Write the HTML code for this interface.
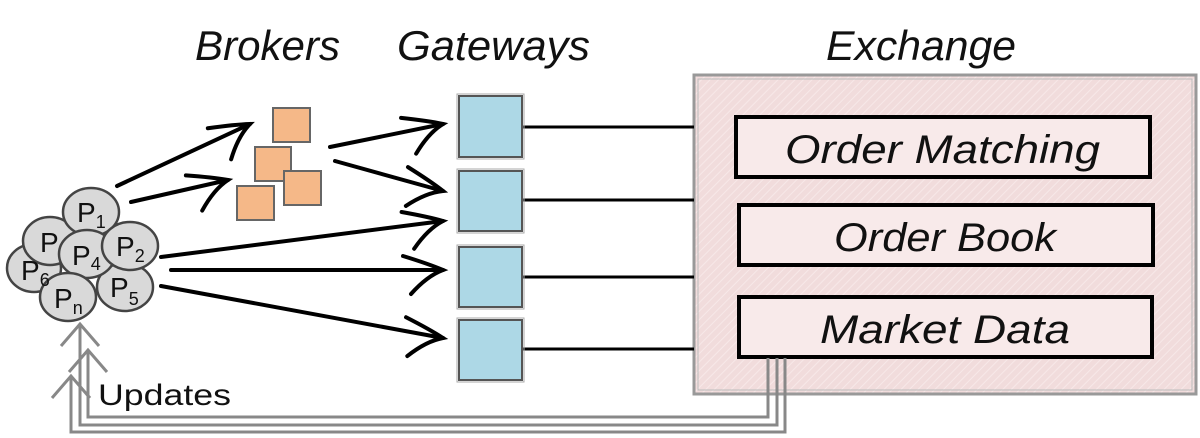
<!DOCTYPE html>
<html><head><meta charset="utf-8"><style>
html,body{margin:0;padding:0;background:#fff}
svg{display:block}
text{font-family:"Liberation Sans",sans-serif;font-style:italic;fill:#111}
</style></head><body>
<svg width="1200" height="438" viewBox="0 0 1200 438" xmlns="http://www.w3.org/2000/svg">
<defs>
<pattern id="hp" width="6" height="6" patternUnits="userSpaceOnUse" patternTransform="rotate(45)">
<rect width="6" height="6" fill="#f1dcdc"/><line x1="0" y1="0" x2="0" y2="6" stroke="#f7e8e8" stroke-width="2"/>
</pattern>
<g id="ah"><path d="M-40,-14 Q-14,-6 0,0 Q-16,6 -32,24" fill="none" stroke="#000" stroke-width="4" stroke-linecap="round"/></g>
<g id="gh"><path d="M-19,22 L0,0 L19,22" fill="none" stroke="#888" stroke-width="3"/></g>
</defs>

<text x="195" y="60" font-size="42" textLength="145" lengthAdjust="spacingAndGlyphs">Brokers</text>
<text x="397" y="60" font-size="42" textLength="193" lengthAdjust="spacingAndGlyphs">Gateways</text>
<text x="826" y="60" font-size="42" textLength="190" lengthAdjust="spacingAndGlyphs">Exchange</text>

<rect x="694" y="75" width="502" height="319" fill="url(#hp)" stroke="#999" stroke-width="3"/>
<rect x="698" y="79" width="494" height="311" fill="none" stroke="#bbb" stroke-width="1"/>
<g fill="#f8eaea" stroke="#000" stroke-width="4">
<rect x="736" y="117" width="414" height="60"/>
<rect x="739" y="205" width="414" height="60"/>
<rect x="739" y="297" width="413" height="60"/>
</g>
<text x="785" y="163" font-size="40" textLength="315" lengthAdjust="spacingAndGlyphs">Order Matching</text>
<text x="834" y="251" font-size="40" textLength="222" lengthAdjust="spacingAndGlyphs">Order Book</text>
<text x="820" y="343" font-size="40" textLength="250" lengthAdjust="spacingAndGlyphs">Market Data</text>

<g stroke="#000" stroke-width="3">
<line x1="522" y1="127" x2="694" y2="127"/>
<line x1="522" y1="200" x2="694" y2="200"/>
<line x1="522" y1="277" x2="694" y2="277"/>
<line x1="522" y1="349" x2="694" y2="349"/>
</g>
<g fill="#add8e6" stroke="#555" stroke-width="2">
<rect x="459" y="96" width="63" height="61"/>
<rect x="459" y="171" width="63" height="60"/>
<rect x="459" y="247" width="63" height="60"/>
<rect x="459" y="320" width="63" height="60"/>
</g>
<g fill="none" stroke="#aaa" stroke-width="1">
<rect x="457" y="94" width="67" height="65"/>
<rect x="457" y="169" width="67" height="64"/>
<rect x="457" y="245" width="67" height="64"/>
<rect x="457" y="318" width="67" height="64"/>
</g>

<g fill="#f5b888" stroke="#666" stroke-width="2">
<rect x="273" y="108" width="37" height="34"/>
<rect x="255" y="147" width="36" height="34"/>
<rect x="284" y="171" width="37" height="34"/>
<rect x="237" y="186" width="37" height="34"/>
</g>

<g stroke="#000" stroke-width="4" stroke-linecap="round">
<line x1="117" y1="186" x2="250" y2="124"/>
<line x1="131" y1="202" x2="228" y2="180"/>
<line x1="330" y1="147" x2="443" y2="124"/>
<line x1="335" y1="161" x2="443" y2="191"/>
<line x1="161" y1="257" x2="443" y2="221"/>
<line x1="171" y1="270" x2="443" y2="270"/>
<line x1="161" y1="286" x2="443" y2="338"/>
</g>
<use href="#ah" transform="translate(250,124) rotate(-25)"/>
<use href="#ah" transform="translate(228,180) rotate(-13)"/>
<use href="#ah" transform="translate(443,124) rotate(-11)"/>
<use href="#ah" transform="translate(443,191) rotate(15)"/>
<use href="#ah" transform="translate(443,221) rotate(-7)"/>
<use href="#ah" transform="translate(443,270)"/>
<use href="#ah" transform="translate(443,338) rotate(10)"/>

<g fill="#d9d9d9" stroke="#444" stroke-width="2.5">
<ellipse cx="34" cy="268" rx="27" ry="24"/>
<ellipse cx="50" cy="241" rx="27" ry="24"/>
<ellipse cx="125" cy="287" rx="28" ry="24"/>
<ellipse cx="91" cy="212" rx="28" ry="24"/>
<ellipse cx="87" cy="254" rx="28" ry="24"/>
<ellipse cx="130" cy="246" rx="28" ry="24"/>
<ellipse cx="68" cy="297" rx="28" ry="24"/>
</g>
<g fill="#222">
<text x="21" y="280" font-size="28" style="font-style:normal">P<tspan font-size="18" dy="6">6</tspan></text>
<text x="40" y="252" font-size="28" style="font-style:normal">P</text>
<text x="110" y="297" font-size="28" style="font-style:normal">P<tspan font-size="18" dy="8">5</tspan></text>
<text x="77" y="222" font-size="28" style="font-style:normal">P<tspan font-size="18" dy="6">1</tspan></text>
<text x="72" y="265" font-size="28" style="font-style:normal">P<tspan font-size="18" dy="5">4</tspan></text>
<text x="116" y="256" font-size="28" style="font-style:normal">P<tspan font-size="18" dy="6">2</tspan></text>
<text x="54" y="308" font-size="28" style="font-style:normal">P<tspan font-size="18" dy="6">n</tspan></text>
</g>

<g fill="none" stroke="#888" stroke-width="3">
<polyline points="80,324 80,425 777,425 777,358"/>
<polyline points="88,352 88,417 768,417 768,358"/>
<polyline points="71,376 71,432 785,432 785,358"/>
</g>
<use href="#gh" transform="translate(80,324)"/>
<use href="#gh" transform="translate(88,350)"/>
<use href="#gh" transform="translate(71,376)"/>
<text x="98" y="405" font-size="30" style="font-style:normal" textLength="133" lengthAdjust="spacingAndGlyphs">Updates</text>
</svg>
</body></html>
